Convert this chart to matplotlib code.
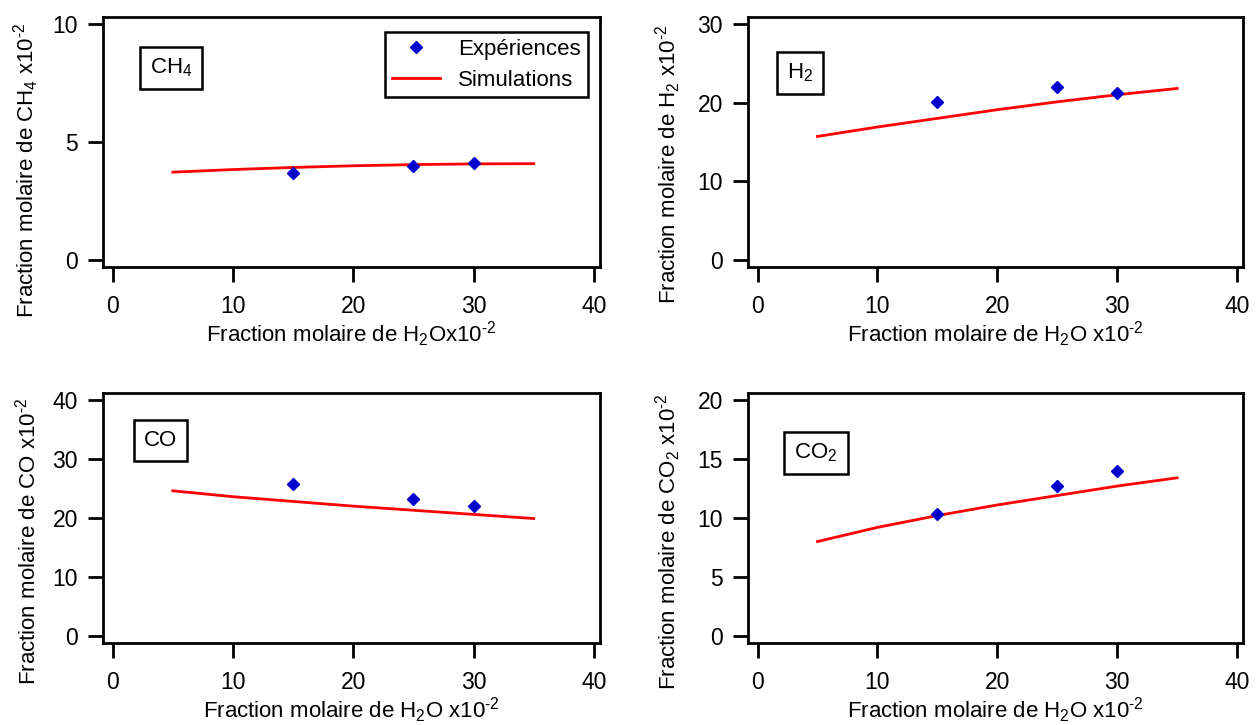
import numpy as np
import matplotlib
matplotlib.use('Agg')
import matplotlib.pyplot as plt

plt.rcParams['font.family'] = ['Liberation Sans', 'DejaVu Sans']
plt.rcParams['mathtext.fontset'] = 'custom'
plt.rcParams['mathtext.rm'] = 'Liberation Sans'
plt.rcParams['mathtext.it'] = 'Liberation Sans'

# Data
x_exp = [15, 25, 30]
x_sim = [5, 10, 15, 20, 25, 30, 35]

ch4_exp = [3.7, 4.0, 4.1]
ch4_sim = [3.72, 3.83, 3.92, 3.99, 4.04, 4.07, 4.08]

h2_exp = [20.1, 22.0, 21.2]
h2_sim = [15.7, 16.9, 18.0, 19.1, 20.1, 21.0, 21.8]

co_exp = [25.8, 23.2, 22.0]
co_sim = [24.6, 23.6, 22.8, 22.0, 21.3, 20.6, 19.9]

co2_exp = [10.3, 12.7, 14.0]
co2_sim = [8.0, 9.2, 10.2, 11.1, 11.9, 12.7, 13.4]

sup = r'x10$^{\text{-2}}$'
panels = [
    # (exp, sim, ymax, ystep, species, ylabel, xlabel, box pos, ylabel pos)
    (ch4_exp, ch4_sim, 10, 5, 'CH$_4$', 'Fraction molaire de CH$_4$ ' + sup,
     'Fraction molaire de H$_2$O' + sup, (0.137, 0.795), (-0.125, 0.385)),
    (h2_exp, h2_sim, 30, 10, 'H$_2$', 'Fraction molaire de H$_2$ ' + sup,
     'Fraction molaire de H$_2$O ' + sup, (0.105, 0.775), (-0.132, 0.41)),
    (co_exp, co_sim, 40, 10, 'CO', 'Fraction molaire de CO ' + sup,
     'Fraction molaire de H$_2$O ' + sup, (0.115, 0.81), (-0.125, 0.405)),
    (co2_exp, co2_sim, 20, 5, 'CO$_2$', 'Fraction molaire de CO$_2$ ' + sup,
     'Fraction molaire de H$_2$O ' + sup, (0.137, 0.76), (-0.132, 0.405)),
]

positions = [
    [0.0819, 0.6317, 0.395, 0.345],
    [0.5946, 0.6317, 0.3935, 0.345],
    [0.0819, 0.1131, 0.395, 0.345],
    [0.5946, 0.1131, 0.3935, 0.345],
]

fig = plt.figure(figsize=(12.58, 7.25), dpi=100)

for i, (exp, sim, ymax, ystep, species, ylabel, xlabel, boxpos, ylpos) in enumerate(panels):
    ax = fig.add_axes(positions[i])
    ax.plot(x_sim, sim, color='#ff0000', lw=2, label='Simulations', zorder=2)
    ax.plot(x_exp, exp, linestyle='none', marker='D', color='#0000cc', markersize=6,
            label='Expériences', zorder=3)
    pad = 0.03 * ymax
    ax.set_ylim(-pad, ymax + pad)
    ax.set_xlim(-0.8, 40.5)
    ax.set_xticks([0, 10, 20, 30, 40])
    ax.set_yticks(np.arange(0, ymax + 0.1, ystep))
    for s in ax.spines.values():
        s.set_linewidth(2)
    ax.tick_params(direction='out', length=11, width=2, labelsize=16.5, pad=9, axis='x')
    ax.tick_params(direction='out', length=11, width=2, labelsize=16.5, pad=7, axis='y')
    ax.set_xlabel(xlabel, fontsize=16, labelpad=1)
    ax.set_ylabel(ylabel, fontsize=16)
    ax.yaxis.set_label_coords(ylpos[0], ylpos[1])
    ax.text(boxpos[0], boxpos[1], species, transform=ax.transAxes, fontsize=16,
            ha='center', va='center',
            bbox=dict(boxstyle='square,pad=0.45', facecolor='white', edgecolor='black', lw=1.8))
    if i == 0:
        handles, labels = ax.get_legend_handles_labels()
        leg = ax.legend(handles[::-1], labels[::-1], loc='upper right', fontsize=16,
                        frameon=True, fancybox=False, edgecolor='black', framealpha=1,
                        bbox_to_anchor=(0.975, 0.94), borderpad=0.3, borderaxespad=0,
                        handlelength=2.2, handletextpad=0.8, labelspacing=0.45)
        leg.get_frame().set_linewidth(1.8)

fig.savefig('out.png', dpi=100)
